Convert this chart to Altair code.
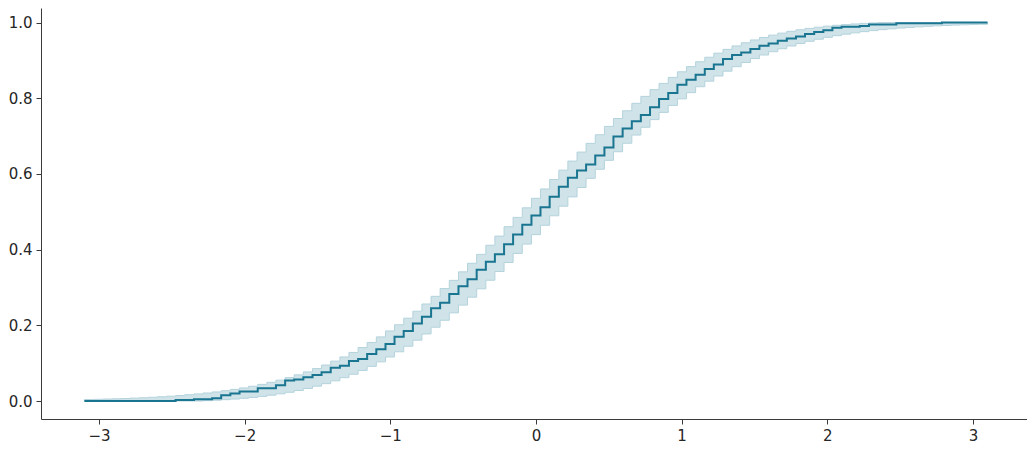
import altair as alt
import pandas as pd

# evaluation grid (x)
x_vals = [
    -3.100, -3.037, -2.975, -2.912, -2.849, -2.787, -2.724, -2.662, -2.599, -2.536,
    -2.474, -2.411, -2.348, -2.286, -2.223, -2.161, -2.098, -2.035, -1.973, -1.910,
    -1.847, -1.785, -1.722, -1.660, -1.597, -1.534, -1.472, -1.409, -1.346, -1.284,
    -1.221, -1.159, -1.096, -1.033, -0.971, -0.908, -0.845, -0.783, -0.720, -0.658,
    -0.595, -0.532, -0.470, -0.407, -0.344, -0.282, -0.219, -0.157, -0.094, -0.031,
    0.031, 0.094, 0.157, 0.219, 0.282, 0.344, 0.407, 0.470, 0.532, 0.595,
    0.658, 0.720, 0.783, 0.845, 0.908, 0.971, 1.033, 1.096, 1.159, 1.221,
    1.284, 1.346, 1.409, 1.472, 1.534, 1.597, 1.660, 1.722, 1.785, 1.847,
    1.910, 1.973, 2.035, 2.098, 2.161, 2.223, 2.286, 2.348, 2.411, 2.474,
    2.536, 2.599, 2.662, 2.724, 2.787, 2.849, 2.912, 2.975, 3.037, 3.100,
]

# empirical CDF values
ecdf_vals = [
    0.0, 0.0, 0.0, 0.0, 0.0, 0.0, 0.0, 0.0, 0.0, 0.0,
    0.0025, 0.0025, 0.005, 0.005, 0.0075, 0.015, 0.020, 0.025, 0.025, 0.034,
    0.034, 0.042, 0.054, 0.057, 0.063, 0.069, 0.076, 0.088, 0.093, 0.106,
    0.111, 0.124, 0.137, 0.151, 0.170, 0.185, 0.205, 0.223, 0.245, 0.260,
    0.283, 0.303, 0.322, 0.347, 0.368, 0.388, 0.414, 0.440, 0.466, 0.490,
    0.512, 0.540, 0.566, 0.590, 0.609, 0.625, 0.649, 0.670, 0.699, 0.720,
    0.739, 0.756, 0.776, 0.798, 0.814, 0.836, 0.849, 0.862, 0.877, 0.889,
    0.904, 0.914, 0.921, 0.930, 0.939, 0.945, 0.952, 0.958, 0.963, 0.970,
    0.975, 0.980, 0.986, 0.989, 0.989, 0.991, 0.995, 0.995, 0.995, 0.998,
    0.998, 0.998, 0.998, 0.998, 1.0, 1.0, 1.0, 1.0, 1.0, 1.0,
]

# confidence band
lower_vals = [
    0.0, 0.0, 0.0, 0.0, 0.0, 0.0, 0.0, 0.0, 0.0, 0.0,
    0.0, 0.0, 0.0, 0.0010, 0.0022, 0.0036, 0.0052, 0.0072, 0.0094, 0.0122,
    0.0154, 0.0190, 0.0231, 0.0279, 0.0332, 0.0393, 0.0459, 0.0534, 0.0617, 0.0708,
    0.0808, 0.0916, 0.1035, 0.1164, 0.1301, 0.1449, 0.1607, 0.1772, 0.1950, 0.2134,
    0.2330, 0.2535, 0.2744, 0.2965, 0.3192, 0.3422, 0.3660, 0.3900, 0.4147, 0.4396,
    0.4644, 0.4895, 0.5148, 0.5394, 0.5642, 0.5884, 0.6125, 0.6360, 0.6587, 0.6812,
    0.7028, 0.7234, 0.7436, 0.7627, 0.7811, 0.7985, 0.8148, 0.8305, 0.8452, 0.8588,
    0.8716, 0.8835, 0.8946, 0.9049, 0.9143, 0.9230, 0.9309, 0.9381, 0.9448, 0.9506,
    0.9560, 0.9610, 0.9654, 0.9694, 0.9728, 0.9760, 0.9788, 0.9813, 0.9834, 0.9855,
    0.9872, 0.9887, 0.9901, 0.9914, 0.9923, 0.9933, 0.9941, 0.9948, 0.9955, 0.9960,
]

upper_vals = [
    0.0040, 0.0045, 0.0052, 0.0059, 0.0067, 0.0077, 0.0086, 0.0099, 0.0113, 0.0128,
    0.0145, 0.0166, 0.0187, 0.0212, 0.0240, 0.0272, 0.0308, 0.0346, 0.0390, 0.0440,
    0.0494, 0.0552, 0.0619, 0.0691, 0.0770, 0.0857, 0.0951, 0.1054, 0.1165, 0.1284,
    0.1412, 0.1548, 0.1695, 0.1852, 0.2015, 0.2189, 0.2373, 0.2564, 0.2766, 0.2972,
    0.3188, 0.3413, 0.3640, 0.3875, 0.4116, 0.4358, 0.4606, 0.4852, 0.5105, 0.5356,
    0.5604, 0.5853, 0.6100, 0.6340, 0.6578, 0.6808, 0.7035, 0.7256, 0.7465, 0.7670,
    0.7866, 0.8050, 0.8228, 0.8393, 0.8551, 0.8699, 0.8836, 0.8965, 0.9084, 0.9192,
    0.9292, 0.9383, 0.9466, 0.9541, 0.9607, 0.9668, 0.9721, 0.9769, 0.9810, 0.9846,
    0.9878, 0.9906, 0.9928, 0.9946, 0.9964, 0.9978, 0.9990, 0.9999, 1.0, 1.0,
    1.0, 1.0, 1.0, 1.0, 1.0, 1.0, 1.0, 1.0, 1.0, 1.0,
]

x_ticks = [-3, -2, -1, 0, 1, 2, 3]
y_ticks = [0.0, 0.2, 0.4, 0.6, 0.8, 1.0]

df = pd.DataFrame({"x": x_vals, "ecdf": ecdf_vals, "lower": lower_vals, "upper": upper_vals})

x_enc = alt.X(
    "x:Q",
    scale=alt.Scale(domain=[-3.398, 3.371], nice=False, zero=False),
    axis=alt.Axis(values=x_ticks, title=None, grid=False, format="d", labelPadding=4),
)
y_scale = alt.Scale(domain=[-0.0475, 1.0385], nice=False, zero=False)

band = alt.Chart(df).mark_area(
    interpolate="step-after", color="#cfe3e9", opacity=1, stroke="#b4d3dc", strokeWidth=1
).encode(
    x=x_enc,
    y=alt.Y(
        "lower:Q",
        scale=y_scale,
        axis=alt.Axis(values=y_ticks, title=None, grid=False, format=".1f", labelPadding=4),
    ),
    y2="upper:Q",
)

line = alt.Chart(df).mark_line(
    interpolate="step-after", color="#1a7591", strokeWidth=2
).encode(
    x=x_enc,
    y=alt.Y("ecdf:Q", scale=y_scale),
)

chart = (
    alt.layer(band, line)
    .properties(
        width=986,
        height=411,
        autosize=alt.AutoSizeParams(type="none"),
        padding={"left": 33, "top": 0, "right": 0, "bottom": 30},
    )
    .configure_view(stroke=None)
    .configure_axis(
        domainColor="#3a3a3a",
        domainWidth=1,
        tickColor="#3a3a3a",
        tickSize=5,
        tickWidth=1,
        labelColor="#262626",
        labelFont="DejaVu Sans",
        labelFontSize=15,
    )
)

chart.save("out.html", embed_options={"renderer": "svg", "actions": False})
